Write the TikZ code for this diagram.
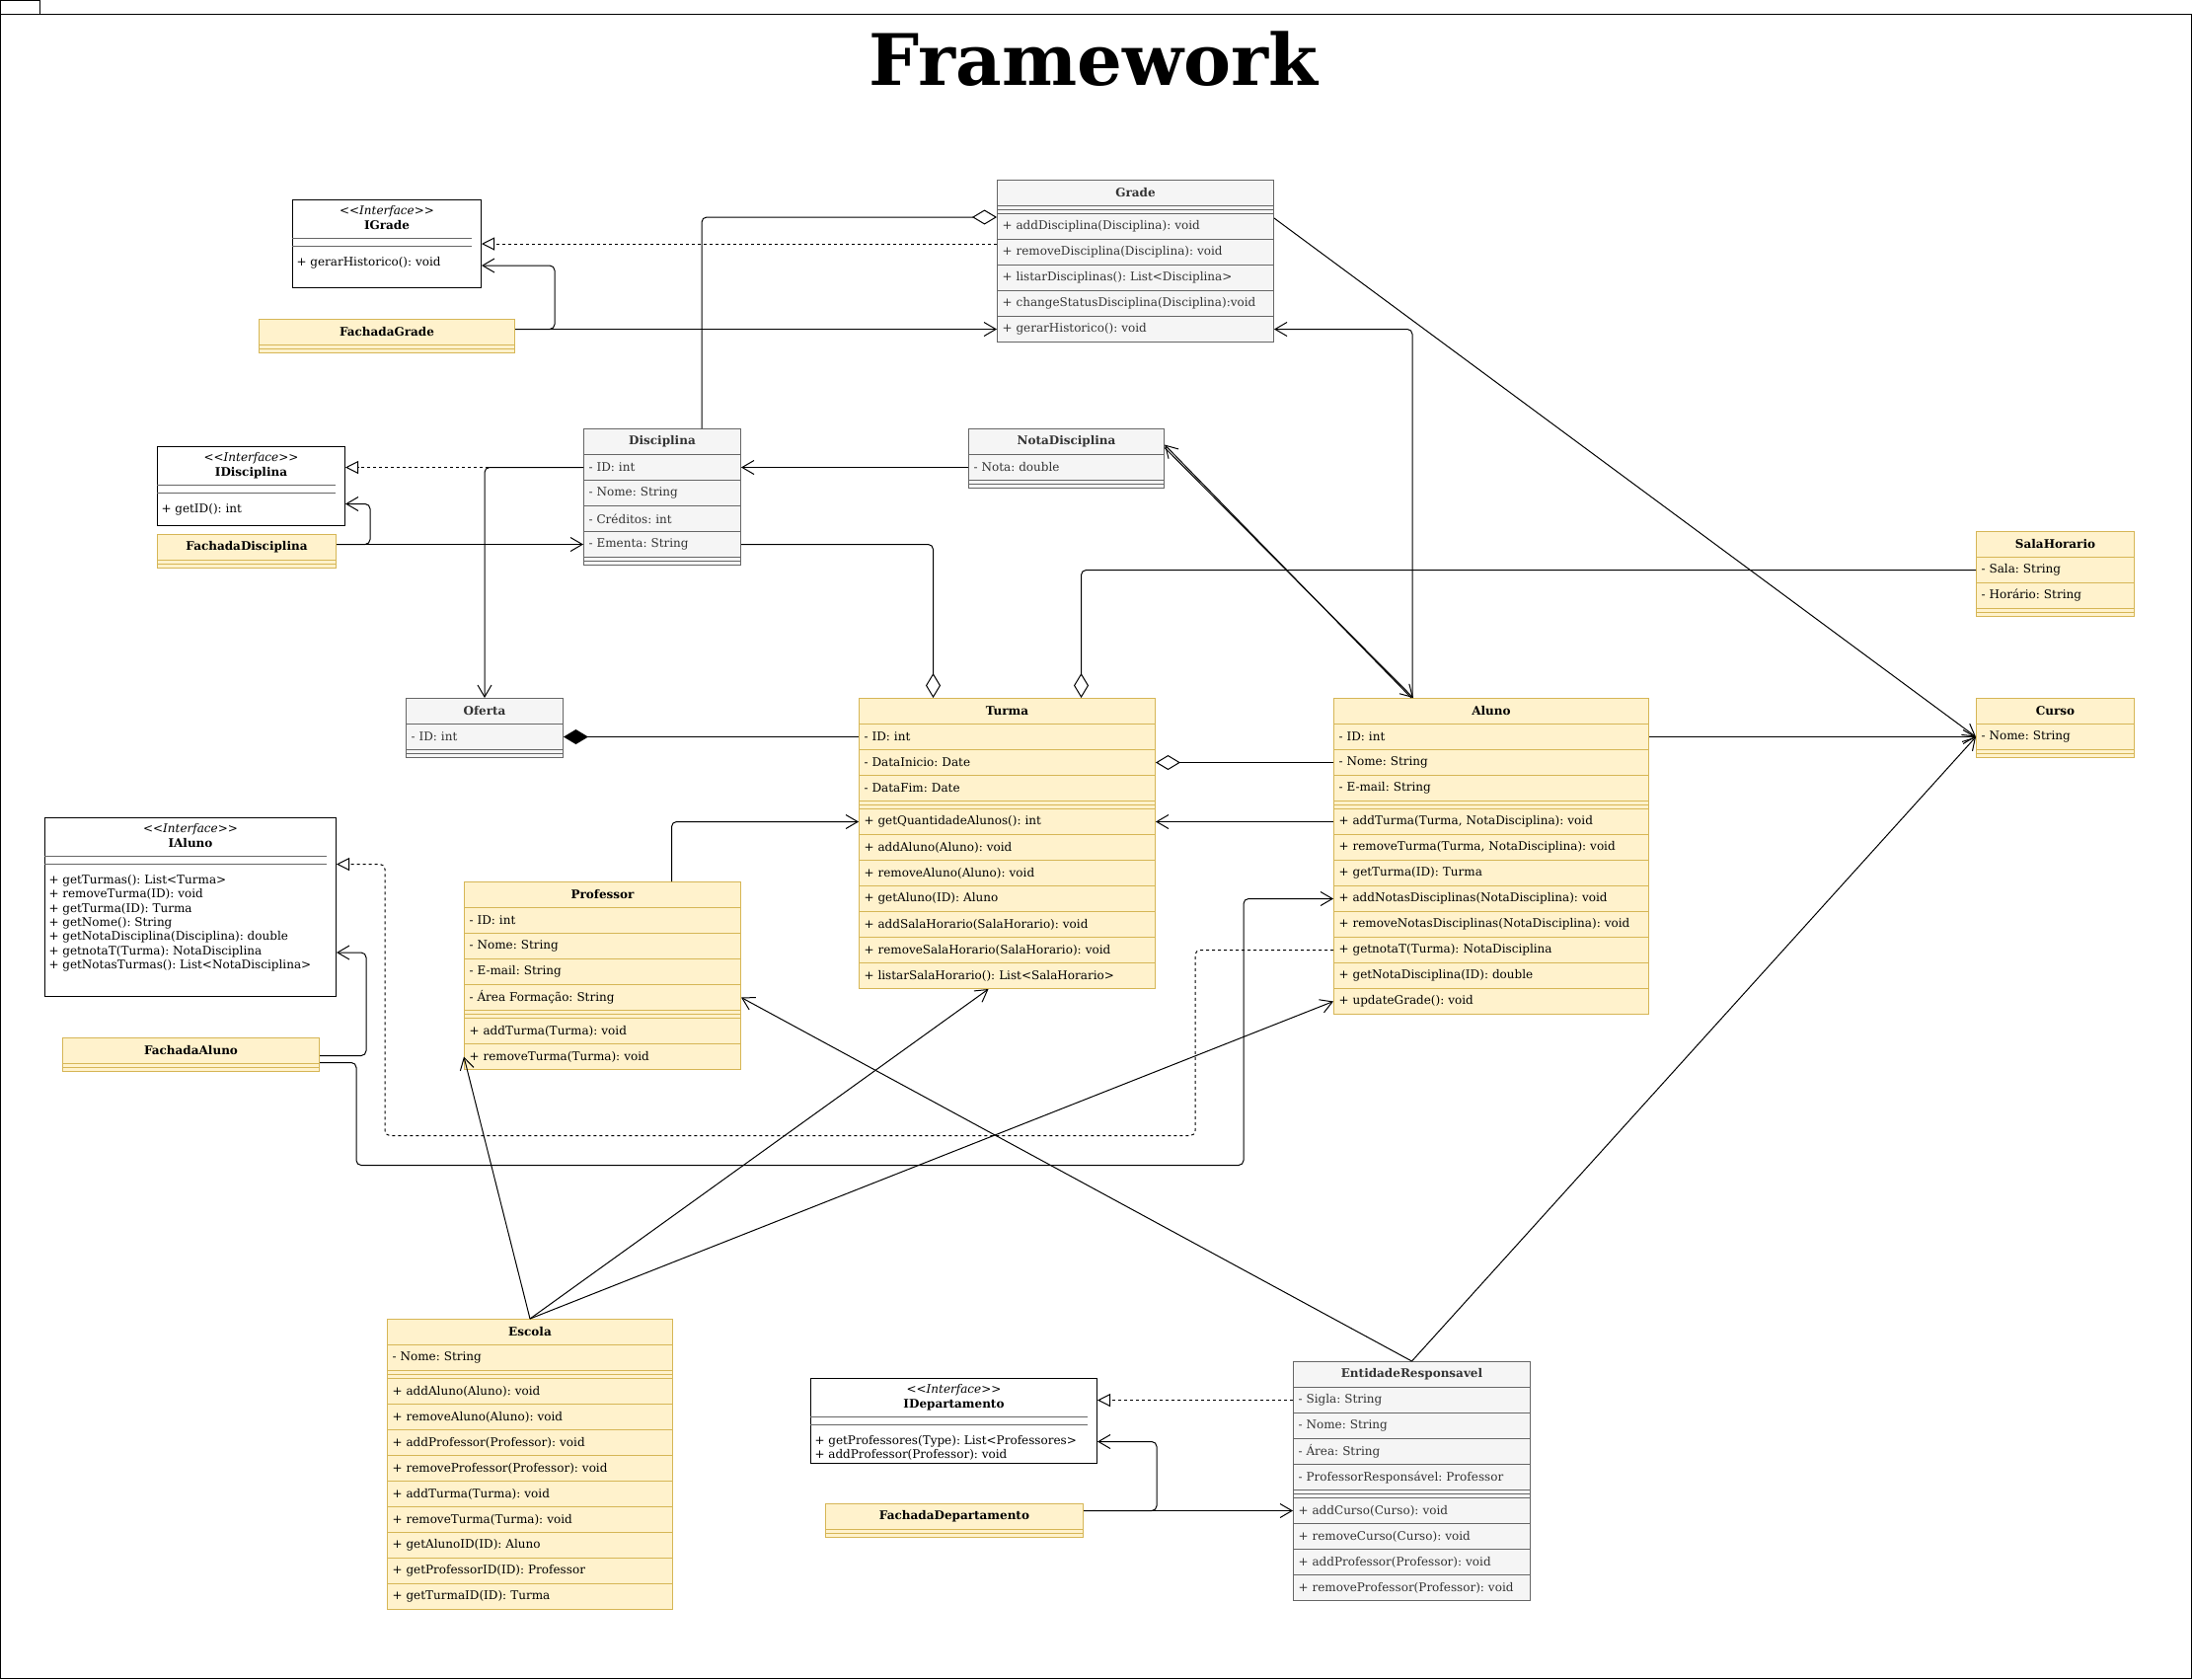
\documentclass[tikz,border=0pt]{standalone}
\usepackage{fontspec}
\setmainfont{DejaVu Serif}
\usetikzlibrary{arrows.meta}
\frenchspacing

\definecolor{gfill}{HTML}{F5F5F5}
\definecolor{gline}{HTML}{666666}
\definecolor{gtext}{HTML}{333333}
\definecolor{yfill}{HTML}{FFF2CC}
\definecolor{yline}{HTML}{D6B656}

\begin{document}
\begin{tikzpicture}[x=1pt, y=-1pt, line width=1pt]
  \tikzset{
    box/.style={anchor=north west, inner ysep=0pt, font=\fontsize{12}{14.3}\selectfont},
    head/.style={box, minimum width=#1, minimum height=26pt, inner xsep=0pt,
      font=\fontsize{12}{14.3}\selectfont\bfseries},
    row/.style={box, text width=#1, minimum height=26pt, inner xsep=5pt, align=left},
    bar/.style 2 args={box, minimum width=#1, minimum height=8pt, inner xsep=0pt,
      path picture={\draw[#2, line width=1pt] (path picture bounding box.west) -- (path picture bounding box.east);}},
    grey/.style={draw=gline, fill=gfill, text=gtext},
    yel/.style={draw=yline, fill=yfill, text=black},
    iface/.style={anchor=north west, draw=black, fill=white, inner sep=0pt},
    ititle/.style={anchor=north, align=center, inner sep=0pt, font=\fontsize{12}{15}\selectfont},
    imeth/.style={anchor=north west, align=left, inner sep=0pt, font=\fontsize{12}{14.3}\selectfont},
    dep/.style={-{Straight Barb[length=12pt,width=14pt]}},
    real/.style={dash pattern=on 3pt off 3pt, -{Triangle[open,length=13pt,width=13pt]}},
    aggr/.style={-{Diamond[open,length=25pt,width=15pt]}},
    comp/.style={-{Diamond[length=25pt,width=15pt]}}
  }
  \useasboundingbox (0,0) rectangle (2221,1701);

  % frame
  \draw (0,0.5) rectangle (40,14);
  \draw (0,14) rectangle (2220,1700);
  \node[font=\fontsize{72}{80}\selectfont\bfseries] (title) at (1108,60) {Framework};

  % interfaces
  \node[iface, minimum width=191pt, minimum height=89pt] (igrade) at (296,202) {};
  \node[ititle] (igrade-t) at ([yshift=-6]igrade.north) {\textit{{<}{<}Interface{>}{>}}\\\textbf{IGrade}};
  \draw[gline] ([yshift=-39]igrade.north west) -- ([xshift=-10,yshift=-39]igrade.north east);
  \draw[gline] ([yshift=-47]igrade.north west) -- ([xshift=-10,yshift=-47]igrade.north east);
  \node[imeth] (igrade-m) at ([xshift=4,yshift=-58]igrade.north west) {+ gerarHistorico(): void};

  \node[iface, minimum width=190pt, minimum height=80pt] (idisc) at (159,452) {};
  \node[ititle] (idisc-t) at ([yshift=-6]idisc.north) {\textit{{<}{<}Interface{>}{>}}\\\textbf{IDisciplina}};
  \draw[gline] ([yshift=-39]idisc.north west) -- ([xshift=-10,yshift=-39]idisc.north east);
  \draw[gline] ([yshift=-47]idisc.north west) -- ([xshift=-10,yshift=-47]idisc.north east);
  \node[imeth] (idisc-m) at ([xshift=4,yshift=-58]idisc.north west) {+ getID(): int};

  \node[iface, minimum width=295pt, minimum height=181pt] (ialuno) at (45,828) {};
  \node[ititle] (ialuno-t) at ([yshift=-6]ialuno.north) {\textit{{<}{<}Interface{>}{>}}\\\textbf{IAluno}};
  \draw[gline] ([yshift=-39]ialuno.north west) -- ([xshift=-10,yshift=-39]ialuno.north east);
  \draw[gline] ([yshift=-47]ialuno.north west) -- ([xshift=-10,yshift=-47]ialuno.north east);
  \node[imeth] (ialuno-m) at ([xshift=4,yshift=-58]ialuno.north west) {+ getTurmas(): List<Turma>\\+ removeTurma(ID): void\\+ getTurma(ID): Turma\\+ getNome(): String\\+ getNotaDisciplina(Disciplina): double\\+ getnotaT(Turma): NotaDisciplina\\+ getNotasTurmas(): List<NotaDisciplina>};

  \node[iface, minimum width=290pt, minimum height=86pt] (idep) at (821,1396) {};
  \node[ititle] (idep-t) at ([yshift=-6]idep.north) {\textit{{<}{<}Interface{>}{>}}\\\textbf{IDepartamento}};
  \draw[gline] ([yshift=-39]idep.north west) -- ([xshift=-10,yshift=-39]idep.north east);
  \draw[gline] ([yshift=-47]idep.north west) -- ([xshift=-10,yshift=-47]idep.north east);
  \node[imeth] (idep-m) at ([xshift=4,yshift=-58]idep.north west) {+ getProfessores(Type): List<Professores>\\+ addProfessor(Professor): void};

  % facades
  \node[head=259, yel] (fgrade) at (262,323) {FachadaGrade};
  \node[bar={259}{yline}, yel] (fgrade-s) at (262,349) {};
  \node[head=181, yel] (fdisc) at (159,541) {FachadaDisciplina};
  \node[bar={181}{yline}, yel] (fdisc-s) at (159,567) {};
  \node[head=260, yel] (faluno) at (63,1051) {FachadaAluno};
  \node[bar={260}{yline}, yel] (faluno-s) at (63,1077) {};
  \node[head=261, yel] (fdep) at (836,1523) {FachadaDepartamento};
  \node[bar={261}{yline}, yel] (fdep-s) at (836,1549) {};

  % Grade
  \node[head=280, grey] (grade) at (1010,182) {Grade};
  \node[bar={280}{gline}, grey] (grade-s) at (1010,208) {};
  \node[row=270pt, grey] (gr1) at (1010,216) {+ addDisciplina(Disciplina): void};
  \node[row=270pt, grey] (gr2) at (1010,242) {+ removeDisciplina(Disciplina): void};
  \node[row=270pt, grey] (gr3) at (1010,268) {+ listarDisciplinas(): List<Disciplina>};
  \node[row=270pt, grey] (gr4) at (1010,294) {+ changeStatusDisciplina(Disciplina):void};
  \node[row=270pt, grey] (gr5) at (1010,320) {+ gerarHistorico(): void};

  % Disciplina
  \node[head=159, grey] (disc) at (591,434) {Disciplina};
  \node[row=149pt, grey] (disc1) at (591,460) {- ID: int};
  \node[row=149pt, grey] (disc2) at (591,486) {- Nome: String};
  \node[row=149pt, grey] (disc3) at (591,512) {- Créditos: int};
  \node[row=149pt, grey] (disc4) at (591,538) {- Ementa: String};
  \node[bar={159}{gline}, grey] (disc-s) at (591,564) {};

  % NotaDisciplina
  \node[head=198, grey] (nd) at (981,434) {NotaDisciplina};
  \node[row=188pt, grey] (nd1) at (981,460) {- Nota: double};
  \node[bar={198}{gline}, grey] (nd-s) at (981,486) {};

  % Oferta
  \node[head=159, grey] (oferta) at (411,707) {Oferta};
  \node[row=149pt, grey] (of1) at (411,733) {- ID: int};
  \node[bar={159}{gline}, grey] (of-s) at (411,759) {};

  % Turma
  \node[head=300, yel] (turma) at (870,707) {Turma};
  \node[row=290pt, yel] (tu1) at (870,733) {- ID: int};
  \node[row=290pt, yel] (tu2) at (870,759) {- DataInicio: Date};
  \node[row=290pt, yel] (tu3) at (870,785) {- DataFim: Date};
  \node[bar={300}{yline}, yel] (tu-s) at (870,811) {};
  \node[row=290pt, yel] (tm1) at (870,819) {+ getQuantidadeAlunos(): int};
  \node[row=290pt, yel] (tm2) at (870,845) {+ addAluno(Aluno): void};
  \node[row=290pt, yel] (tm3) at (870,871) {+ removeAluno(Aluno): void};
  \node[row=290pt, yel] (tm4) at (870,897) {+ getAluno(ID): Aluno};
  \node[row=290pt, yel] (tm5) at (870,923) {+ addSalaHorario(SalaHorario): void};
  \node[row=290pt, yel] (tm6) at (870,949) {+ removeSalaHorario(SalaHorario): void};
  \node[row=290pt, yel] (tm7) at (870,975) {+ listarSalaHorario(): List<SalaHorario>};

  % Aluno
  \node[head=319, yel] (aluno) at (1351,707) {Aluno};
  \node[row=309pt, yel] (al1) at (1351,733) {- ID: int};
  \node[row=309pt, yel] (al2) at (1351,759) {- Nome: String};
  \node[row=309pt, yel] (al3) at (1351,785) {- E-mail: String};
  \node[bar={319}{yline}, yel] (al-s) at (1351,811) {};
  \node[row=309pt, yel] (alm1) at (1351,819) {+ addTurma(Turma, NotaDisciplina): void};
  \node[row=309pt, yel] (alm2) at (1351,845) {+ removeTurma(Turma, NotaDisciplina): void};
  \node[row=309pt, yel] (alm3) at (1351,871) {+ getTurma(ID): Turma};
  \node[row=309pt, yel] (alm4) at (1351,897) {+ addNotasDisciplinas(NotaDisciplina): void};
  \node[row=309pt, yel] (alm5) at (1351,923) {+ removeNotasDisciplinas(NotaDisciplina): void};
  \node[row=309pt, yel] (alm6) at (1351,949) {+ getnotaT(Turma): NotaDisciplina};
  \node[row=309pt, yel] (alm7) at (1351,975) {+ getNotaDisciplina(ID): double};
  \node[row=309pt, yel] (alm8) at (1351,1001) {+ updateGrade(): void};

  % SalaHorario and Curso
  \node[head=160, yel] (sala) at (2002,538) {SalaHorario};
  \node[row=150pt, yel] (sh1) at (2002,564) {- Sala: String};
  \node[row=150pt, yel] (sh2) at (2002,590) {- Horário: String};
  \node[bar={160}{yline}, yel] (sala-s) at (2002,616) {};
  \node[head=160, yel] (curso) at (2002,707) {Curso};
  \node[row=150pt, yel] (cu1) at (2002,733) {- Nome: String};
  \node[bar={160}{yline}, yel] (cu-s) at (2002,759) {};

  % Professor
  \node[head=280, yel] (prof) at (470,893) {Professor};
  \node[row=270pt, yel] (pr1) at (470,919) {- ID: int};
  \node[row=270pt, yel] (pr2) at (470,945) {- Nome: String};
  \node[row=270pt, yel] (pr3) at (470,971) {- E-mail: String};
  \node[row=270pt, yel] (pr4) at (470,997) {- Área Formação: String};
  \node[bar={280}{yline}, yel] (pr-s) at (470,1023) {};
  \node[row=270pt, yel] (pm1) at (470,1031) {+ addTurma(Turma): void};
  \node[row=270pt, yel] (pm2) at (470,1057) {+ removeTurma(Turma): void};

  % Escola
  \node[head=289, yel] (escola) at (392,1336) {Escola};
  \node[row=279pt, yel] (es1) at (392,1362) {- Nome: String};
  \node[bar={289}{yline}, yel] (es-s) at (392,1388) {};
  \node[row=279pt, yel] (esm1) at (392,1396) {+ addAluno(Aluno): void};
  \node[row=279pt, yel] (esm2) at (392,1422) {+ removeAluno(Aluno): void};
  \node[row=279pt, yel] (esm3) at (392,1448) {+ addProfessor(Professor): void};
  \node[row=279pt, yel] (esm4) at (392,1474) {+ removeProfessor(Professor): void};
  \node[row=279pt, yel] (esm5) at (392,1500) {+ addTurma(Turma): void};
  \node[row=279pt, yel] (esm6) at (392,1526) {+ removeTurma(Turma): void};
  \node[row=279pt, yel] (esm7) at (392,1552) {+ getAlunoID(ID): Aluno};
  \node[row=279pt, yel] (esm8) at (392,1578) {+ getProfessorID(ID): Professor};
  \node[row=279pt, yel] (esm9) at (392,1604) {+ getTurmaID(ID): Turma};

  % EntidadeResponsavel
  \node[head=240, grey] (ent) at (1310,1379) {EntidadeResponsavel};
  \node[row=230pt, grey] (ea1) at (1310,1405) {- Sigla: String};
  \node[row=230pt, grey] (ea2) at (1310,1431) {- Nome: String};
  \node[row=230pt, grey] (ea3) at (1310,1457) {- Área: String};
  \node[row=230pt, grey] (ea4) at (1310,1483) {- ProfessorResponsável: Professor};
  \node[bar={240}{gline}, grey] (ent-s) at (1310,1509) {};
  \node[row=230pt, grey] (eam1) at (1310,1517) {+ addCurso(Curso): void};
  \node[row=230pt, grey] (eam2) at (1310,1543) {+ removeCurso(Curso): void};
  \node[row=230pt, grey] (eam3) at (1310,1569) {+ addProfessor(Professor): void};
  \node[row=230pt, grey] (eam4) at (1310,1595) {+ removeProfessor(Professor): void};

  % connectors
  \draw[aggr, rounded corners=5] ([xshift=40]disc.north) |- ([yshift=-4]gr1.north west);
  \draw[real] (igrade.east -| gr2.west) -- (igrade.east);
  \draw[dep] (gr5.west -| fgrade.east) -- (gr5.west);
  \draw[dep, rounded corners=5] (gr5.west -| fgrade.east) -- ++(40,0) |- ([yshift=-22]igrade.east);
  \draw[dep] (nd1.west) -- (disc1.east);
  \draw[real] (disc1.west) -- (disc1.west -| idisc.east);
  \draw[dep, rounded corners=5] (disc1.west) -| (oferta.north);
  \draw[dep] (disc4.west -| fdisc.east) -- (disc4.west);
  \draw[dep, rounded corners=5] (disc4.west -| fdisc.east) -- ++(34,0) |- ([yshift=-18]idisc.east);
  \draw[aggr, rounded corners=5] (disc4.east) -| ([xshift=-75]turma.north);
  \draw[aggr, rounded corners=5] (sh1.west) -| ([xshift=75]turma.north);
  \draw[comp] (tu1.west) -- (of1.east);
  \draw[aggr] (al2.west) -- (tu2.east);
  \draw[dep] (alm1.west) -- (tm1.east);
  \draw[dep, rounded corners=5] ([xshift=70]prof.north) |- (tm1.west);
  \draw[dep] (al1.east) -- (cu1.west);
  \draw[dep] ([yshift=-5]gr1.north east) -- (cu1.west);
  \draw[dep, rounded corners=5] ([xshift=-80]aluno.north) |- (gr5.east);
  \draw[dep] ([xshift=-81]aluno.north) -- ([yshift=-3]nd.east);
  \draw[dep] ([yshift=-6]nd.east) -- ([xshift=-79]aluno.north);
  \draw[real, rounded corners=5] (alm6.west) -- ++(-140,0) -- ++(0,188) -- ++(-821,0) |- ([yshift=43.5]ialuno.east);
  \draw[dep, rounded corners=5] ([yshift=-5]faluno.east) -- ++(47,0) |- ([yshift=-46]ialuno.east);
  \draw[dep, rounded corners=5] ([yshift=-12]faluno.east) -- ++(37,0) -- ++(0,104) -| ([xshift=-91]alm4.west) -- (alm4.west);
  \draw[dep] (escola.north) -- (pm2.west);
  \draw[dep] (escola.north) -- ([xshift=-19]tm7.south);
  \draw[dep] (escola.north) -- (alm8.west);
  \draw[dep] (ent.north) -- (pr4.east);
  \draw[dep] (ent.north) -- (cu1.west);
  \draw[real] (ea1.west) -- (ea1.west -| idep.east);
  \draw[dep] (eam1.west -| fdep.east) -- (eam1.west);
  \draw[dep, rounded corners=5] (eam1.west -| fdep.east) -- ++(74,0) |- ([yshift=-21]idep.east);
\end{tikzpicture}
\end{document}
